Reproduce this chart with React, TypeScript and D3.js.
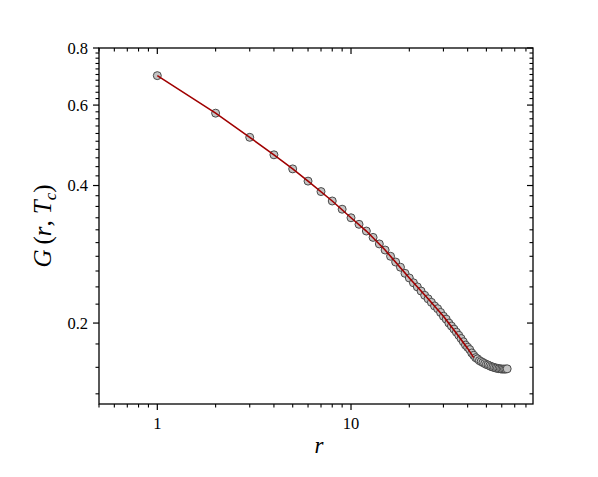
import React from "react";
import * as d3 from "d3";

// distance r (lattice units)
const rValues = [
  1, 2, 3, 4, 5, 6, 7, 8, 9, 10, 11, 12, 13, 14, 15, 16, 17, 18, 19, 20, 21, 22,
  23, 24, 25, 26, 27, 28, 29, 30, 31, 32, 33, 34, 35, 36, 37, 38, 39, 40, 41,
  42, 43, 44, 45, 46, 47, 48, 49, 50, 51, 52, 53, 54, 55, 56, 57, 58, 59, 60,
  61, 62, 63, 64,
];
// correlation function G(r, Tc)
const gValues = [
  0.696, 0.576, 0.51, 0.467, 0.435, 0.409, 0.388, 0.37, 0.355, 0.34, 0.329,
  0.318, 0.308, 0.298, 0.289, 0.28, 0.272, 0.265, 0.257, 0.251, 0.245, 0.24,
  0.235, 0.23, 0.226, 0.222, 0.218, 0.215, 0.211, 0.207, 0.204, 0.2, 0.197,
  0.194, 0.191, 0.188, 0.185, 0.182, 0.179, 0.177, 0.175, 0.172, 0.17, 0.168,
  0.167, 0.1655, 0.1647, 0.1639, 0.1631, 0.1623, 0.1619, 0.1612, 0.1606,
  0.1602, 0.1598, 0.1594, 0.1592, 0.1589, 0.1588, 0.1586, 0.1586, 0.1586,
  0.1586, 0.1588,
];
// fitted curve
const fitR = [1, 2, 3, 4, 5, 6, 8, 10, 12, 15, 20, 25, 30, 35, 40, 43];
const fitG = [
  0.696, 0.576, 0.51, 0.467, 0.435, 0.409, 0.37, 0.34, 0.318, 0.289, 0.251,
  0.226, 0.207, 0.19, 0.176, 0.168,
];

const xMajorTicks = [1, 10];
const xMinorTicks = [
  0.5, 0.6, 0.7, 0.8, 0.9, 2, 3, 4, 5, 6, 7, 8, 9, 20, 30, 40, 50, 60, 70, 80,
];
const yMajorTicks = [0.2, 0.4, 0.6, 0.8];
const yTickLabels = ["0.2", "0.4", "0.6", "0.8"];
const yMinorTicks = [
  0.14, 0.16, 0.18, 0.22, 0.24, 0.26, 0.28, 0.3, 0.32, 0.34, 0.36, 0.38, 0.42,
  0.44, 0.46, 0.48, 0.5, 0.52, 0.54, 0.56, 0.58, 0.62, 0.64, 0.66, 0.68, 0.7,
  0.72, 0.74, 0.76, 0.78,
];

export default function App() {
  const W = 598;
  const H = 477;
  const L = 99;
  const R = 533;
  const T = 48;
  const B = 404;
  const x = d3.scaleLog().domain([0.5, 87]).range([L, R]);
  const y = d3.scaleLog().domain([0.133, 0.8]).range([B, T]);
  const fitLine = d3
    .line<number>()
    .x((_, i) => x(fitR[i]))
    .y((d) => y(d));
  const font = "'Liberation Serif', 'Times New Roman', serif";
  const majLen = 6;
  const minLen = 3.5;
  const axisColor = "#000";

  return (
    <div style={{ position: "absolute", left: 0, top: 0 }}>
      <svg width={W} height={H} style={{ display: "block", background: "#fff" }}>
        <rect x={0} y={0} width={W} height={H} fill="#fff" />
        {/* frame */}
        <rect x={L} y={T} width={R - L} height={B - T} fill="none" stroke={axisColor} strokeWidth={1.3} />
        {/* x ticks: bottom outward, top inward */}
        {xMajorTicks.map((t) => (
          <g key={"xM" + t}>
            <line x1={x(t)} x2={x(t)} y1={B} y2={B + majLen} stroke={axisColor} strokeWidth={1.2} />
            <line x1={x(t)} x2={x(t)} y1={T} y2={T + majLen} stroke={axisColor} strokeWidth={1.2} />
            <text x={x(t)} y={429} textAnchor="middle" fontFamily={font} fontSize={16.5}>
              {t}
            </text>
          </g>
        ))}
        {xMinorTicks.map((t) => (
          <g key={"xm" + t}>
            <line x1={x(t)} x2={x(t)} y1={B} y2={B + minLen} stroke={axisColor} strokeWidth={1.1} />
            <line x1={x(t)} x2={x(t)} y1={T} y2={T + minLen} stroke={axisColor} strokeWidth={1.1} />
          </g>
        ))}
        {/* y ticks: left outward, right inward */}
        {yMajorTicks.map((t, i) => (
          <g key={"yM" + t}>
            <line x1={L - majLen} x2={L} y1={y(t)} y2={y(t)} stroke={axisColor} strokeWidth={1.2} />
            <line x1={R - majLen} x2={R} y1={y(t)} y2={y(t)} stroke={axisColor} strokeWidth={1.2} />
            <text x={88} y={y(t) + 5.5} textAnchor="end" fontFamily={font} fontSize={16.5}>
              {yTickLabels[i]}
            </text>
          </g>
        ))}
        {yMinorTicks.map((t) => (
          <g key={"ym" + t}>
            <line x1={L - minLen} x2={L} y1={y(t)} y2={y(t)} stroke={axisColor} strokeWidth={1.1} />
            <line x1={R - minLen} x2={R} y1={y(t)} y2={y(t)} stroke={axisColor} strokeWidth={1.1} />
          </g>
        ))}
        {/* data points */}
        {rValues.map((r, i) => (
          <circle
            key={"p" + r}
            cx={x(r)}
            cy={y(gValues[i])}
            r={4}
            fill="#c4c4c4"
            stroke="#3a3a3a"
            strokeWidth={0.9}
          />
        ))}
        {/* fit line */}
        <path d={fitLine(fitG) || ""} fill="none" stroke="#a00000" strokeWidth={1.6} />
        {/* axis titles */}
        <text x={319} y={453} textAnchor="middle" fontFamily={font} fontSize={23} fontStyle="italic">
          r
        </text>
        <text
          transform="translate(51,226) rotate(-90)"
          textAnchor="middle"
          fontFamily={font}
          fontSize={25}
        >
          <tspan fontStyle="italic">G</tspan>
          <tspan dx={5}>(</tspan>
          <tspan fontStyle="italic">r</tspan>
          <tspan>,</tspan>
          <tspan dx={6} fontStyle="italic">T</tspan>
          <tspan fontStyle="italic" fontSize={17} dy={5}>c</tspan>
          <tspan dy={-5}>)</tspan>
        </text>
      </svg>
    </div>
  );
}
